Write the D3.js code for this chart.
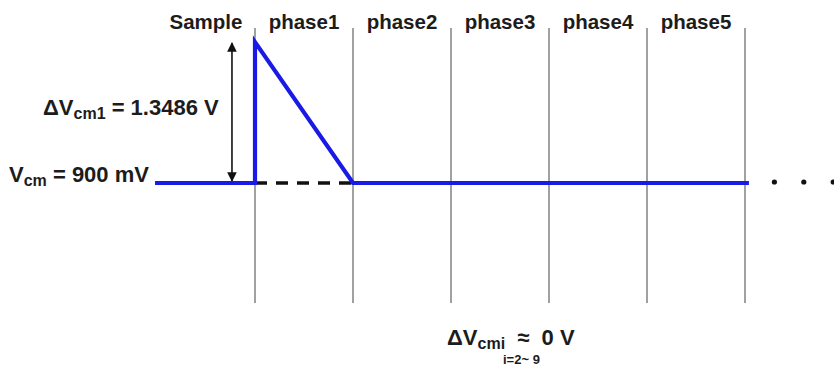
<!DOCTYPE html>
<html>
<head>
<meta charset="utf-8">
<script src="https://cdn.jsdelivr.net/npm/d3@7"></script>
<style>
  body { margin: 0; background: #fff; }
  text { font-family: "Liberation Sans", Arial, sans-serif; font-weight: bold; fill: #1c1c1c; white-space: pre; }
</style>
</head>
<body>
<svg id="chart" width="834" height="369"></svg>
<script>
// phases along the time axis (one unit per phase)
let phases = ['Sample', 'phase1', 'phase2', 'phase3', 'phase4', 'phase5'];
let boundaries = [0, 1, 2, 3, 4, 5];

// common-mode voltage waveform (t in phases, v in volts)
let vcm = 0.9;
let deltaVcm1 = 1.3486;
let waveT = [-1.02, 0, 0, 1, 5.04];
let waveV = [0.9, 0.9, 2.2486, 0.9, 0.9];
let dashT = [0, 1];
let dotsT = [5.3, 5.6, 5.9];

let svg = d3.select('#chart');

let x = d3.scaleLinear().domain([0, 5]).range([255, 745]);
let y = d3.scaleLinear().domain([vcm, vcm + deltaVcm1]).range([183, 42]);

let lineTop = 28, lineBottom = 303;

// phase boundaries
svg.selectAll('.bound')
  .data(boundaries)
  .enter()
  .append('line')
  .attr('class', 'bound')
  .attr('x1', d => x(d))
  .attr('x2', d => x(d))
  .attr('y1', lineTop)
  .attr('y2', lineBottom)
  .attr('stroke', '#8a8a8a')
  .attr('stroke-width', 1.6);

// phase labels
svg.selectAll('.phase-label')
  .data(phases)
  .enter()
  .append('text')
  .attr('class', 'phase-label')
  .attr('x', (d, i) => x(i - 0.5))
  .attr('y', 29)
  .attr('text-anchor', 'middle')
  .style('font-size', '20.5px')
  .text(d => d);

// dashed reference in phase1
svg.append('line')
  .attr('x1', x(dashT[0]))
  .attr('x2', x(dashT[1]))
  .attr('y1', y(vcm))
  .attr('y2', y(vcm))
  .attr('stroke', '#111')
  .attr('stroke-width', 3.5)
  .attr('stroke-dasharray', '12,9');

// waveform
let wave = waveT.map((t, i) => [t, waveV[i]]);
svg.append('path')
  .datum(wave)
  .attr('d', d3.line().x(d => x(d[0])).y(d => y(d[1])))
  .attr('fill', 'none')
  .attr('stroke', '#1a1ae6')
  .attr('stroke-width', 4.2)
  .attr('stroke-linejoin', 'miter');

// double arrow for delta Vcm1
let defs = svg.append('defs');
defs.append('marker')
  .attr('id', 'ah')
  .attr('viewBox', '0 0 10 10')
  .attr('refX', 9)
  .attr('refY', 5)
  .attr('markerWidth', 6)
  .attr('markerHeight', 6)
  .attr('orient', 'auto-start-reverse')
  .append('path')
  .attr('d', 'M0,0 L10,5 L0,10 Z')
  .attr('fill', '#111');

let arrowT = -0.235;
svg.append('line')
  .attr('x1', x(arrowT))
  .attr('x2', x(arrowT))
  .attr('y1', y(vcm + deltaVcm1) + 1)
  .attr('y2', y(vcm) - 2)
  .attr('stroke', '#111')
  .attr('stroke-width', 1.6)
  .attr('marker-start', 'url(#ah)')
  .attr('marker-end', 'url(#ah)');

// continuation dots
svg.selectAll('.dot')
  .data(dotsT)
  .enter()
  .append('circle')
  .attr('cx', d => x(d))
  .attr('cy', y(vcm) - 1)
  .attr('r', 2.6)
  .attr('fill', '#111');

// annotations
let t1 = svg.append('text')
  .attr('x', 43)
  .attr('y', 115)
  .style('font-size', '22px');
t1.append('tspan').text('ΔV');
t1.append('tspan').attr('dy', 4).style('font-size', '16px').text('cm1');
t1.append('tspan').attr('dy', -4).text(' = ' + deltaVcm1 + ' V');

let t2 = svg.append('text')
  .attr('x', 9)
  .attr('y', 182)
  .style('font-size', '22px');
t2.append('tspan').text('V');
t2.append('tspan').attr('dy', 4).style('font-size', '16px').text('cm');
t2.append('tspan').attr('dy', -4).text(' = ' + (vcm * 1000) + ' mV');

let t3 = svg.append('text')
  .attr('x', 447)
  .attr('y', 345)
  .style('font-size', '22px');
t3.append('tspan').text('ΔV');
t3.append('tspan').attr('dy', 4).style('font-size', '16px').text('cmi');
t3.append('tspan').attr('dy', -4).text('  ≈  0 V');

svg.append('text')
  .attr('x', 503)
  .attr('y', 364)
  .style('font-size', '13px')
  .text('i=2~ 9');
</script>
</body>
</html>
